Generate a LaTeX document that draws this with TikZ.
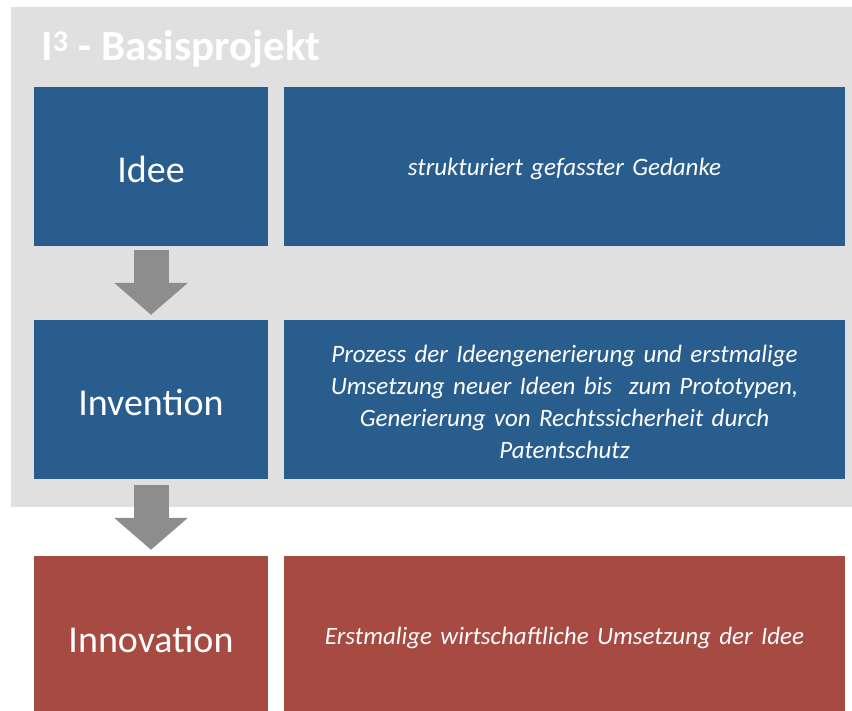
\documentclass[tikz,border=0pt]{standalone}
\usepackage{fontspec}
\setmainfont{Carlito}
\usepackage{tikz}
\usetikzlibrary{arrows.meta,positioning}
\definecolor{projgray}{RGB}{224,224,224}
\definecolor{stepblue}{RGB}{41,93,142}
\definecolor{stepred}{RGB}{167,74,66}
\definecolor{arrowgray}{RGB}{141,141,141}
\tikzset{
    term/.style={
    rectangle,fill=stepblue,text=white,minimum width=234pt,minimum height=159pt,
    inner sep=0pt,text height=33pt,text depth=0pt,font=\fontsize{38}{46}\selectfont
    },
    descr/.style={
    rectangle,fill=stepblue,text=white,minimum width=561pt,minimum height=159pt,
    inner sep=0pt,text width=530pt,align=center,text depth=-4pt,
    font=\fontsize{25}{32}\selectfont\itshape
    },
    flow/.style={
    arrowgray,line width=35pt,-{Triangle[length=32pt,width=72pt]}
    },
}
\begin{document}
\begin{tikzpicture}[x=1pt,y=-1pt]
   \useasboundingbox (0,0) rectangle (852,711);
   \fill[projgray] (11,7) rectangle (852,507);
   \node[anchor=base west,text=white,font=\fontsize{43}{50}\selectfont\bfseries] (title) at (38,61) {I\textsuperscript{3} - Basisprojekt};

   \node[term] (idee) at (151,166.5) {Idee};
   \node[descr] (ideedescr) at (564.5,166.5) {strukturiert gefasster Gedanke};
   \node[term] (invention) at (151,399.5) {Invention};
   \node[descr,text depth=92pt] (inventiondescr) at (564.5,399.5) {Prozess der Ideengenerierung und erstmalige\\Umsetzung neuer Ideen bis\ \ zum Prototypen,\\Generierung von Rechtssicherheit durch\\Patentschutz};
   \node[term,fill=stepred] (innovation) at (151,635.5) {Innovation};
   \node[descr,fill=stepred] (innovationdescr) at (564.5,635.5) {Erstmalige wirtschaftliche Umsetzung der Idee};

  \path[flow]
    (idee) edge [shorten <=4pt,shorten >=5pt] (invention)
    (invention) edge [shorten <=6pt,shorten >=6pt] (innovation);
\end{tikzpicture}
\end{document}
